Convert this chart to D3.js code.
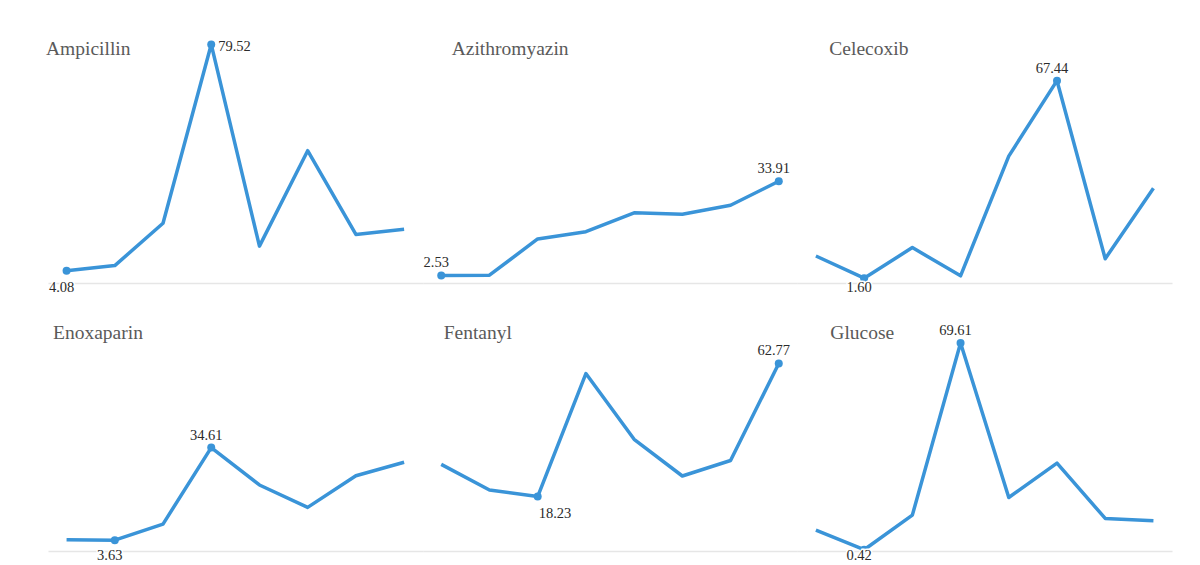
<!DOCTYPE html>
<html lang="en">

<head>
  <meta charset="UTF-8">
  <title>Drug series small multiples</title>
  <script src="https://d3js.org/d3.v7.min.js"></script>
  <style>
    body {
      margin: 0;
      background: #ffffff;
      font-family: 'Liberation Serif', 'Times New Roman', serif;
    }

    .title {
      fill: #5a5a5a;
      font-size: 19.5px;
    }

    .val {
      fill: #2b2b2b;
      font-size: 14.5px;
      paint-order: stroke;
      stroke: #fff;
      stroke-width: 3px;
    }

    .axis path {
      stroke: #e6e6e6;
      stroke-width: 1.5;
    }
  </style>
</head>

<body>
  <div id="chart"></div>

  <script>
    // data
    const drugs = ["Ampicillin", "Azithromyazin", "Celecoxib", "Enoxaparin", "Fentanyl", "Glucose"];
    const steps = [0, 1, 2, 3, 4, 5, 6, 7];
    const ampicillin = [4.08, 5.8, 19.9, 79.52, 12.3, 44.1, 16.2, 17.9];
    const azithromyazin = [2.53, 2.6, 14.7, 17.1, 23.4, 22.9, 25.9, 33.91];
    const celecoxib = [9.0, 1.60, 11.8, 2.4, 42.3, 67.44, 8.1, 31.6];
    const enoxaparin = [3.8, 3.63, 9.0, 34.61, 22.1, 14.6, 25.2, 29.7];
    const fentanyl = [29.0, 20.4, 18.23, 59.4, 37.4, 25.1, 30.3, 62.77];
    const glucose = [7.0, 0.42, 12.0, 69.61, 17.9, 29.4, 10.9, 10.1];
    const yMax = 80;

    const series = [ampicillin, azithromyazin, celecoxib, enoxaparin, fentanyl, glucose];

    // layout
    const width = 1200, height = 565;
    const gridLeft = 48, gridWidth = 1124;
    const colW = gridWidth / 3;
    const rows = [{ top: 43, bottom: 283, titleY: 54.5 }, { top: 312, bottom: 551, titleY: 338.5 }];
    const titleDx = [-2, 29, 32, 5, 21, 33];
    // where the max / min labels sit for each panel
    const labelPos = [
      { max: "right", min: "bottom" },
      { max: "top", min: "top" },
      { max: "top", min: "bottom" },
      { max: "top", min: "bottom" },
      { max: "top", min: "bottomRight" },
      { max: "top", min: "bottom" }
    ];
    const lineColor = "#3a94d8";

    const svg = d3.select("#chart")
      .append("svg")
      .attr("width", width)
      .attr("height", height);

    drugs.forEach((name, i) => {
      const row = rows[Math.floor(i / 3)];
      const left = gridLeft + (i % 3) * colW;
      const values = series[i];

      const x = d3.scalePoint()
        .domain(steps)
        .range([left, left + colW])
        .padding(0.385);

      const y = d3.scaleLinear()
        .domain([0, yMax])
        .range([row.bottom, row.top]);

      const g = svg.append("g");

      g.append("g")
        .attr("class", "axis")
        .attr("transform", `translate(0,${row.bottom})`)
        .call(d3.axisBottom(x).tickSize(0).tickFormat(""))
        .call(a => a.selectAll(".tick").remove());

      g.append("text")
        .attr("class", "title")
        .attr("x", left + titleDx[i])
        .attr("y", row.titleY)
        .text(name);

      const line = d3.line()
        .x((d, j) => x(steps[j]))
        .y(d => y(d));

      g.append("path")
        .datum(values)
        .attr("fill", "none")
        .attr("stroke", lineColor)
        .attr("stroke-width", 3.5)
        .attr("stroke-linejoin", "round")
        .attr("d", line);

      const iMax = d3.maxIndex(values), iMin = d3.minIndex(values);
      const marks = [
        { j: iMax, pos: labelPos[i].max },
        { j: iMin, pos: labelPos[i].min }
      ];

      marks.forEach(m => {
        const cx = x(steps[m.j]), cy = y(values[m.j]);
        g.append("circle")
          .attr("cx", cx)
          .attr("cy", cy)
          .attr("r", 4)
          .attr("fill", lineColor);

        let tx = cx - 5, ty = cy - 8, anchor = "middle";
        if (m.pos === "right") {
          tx = cx + 7; ty = cy + 6.5; anchor = "start";
        } else if (m.pos === "bottom") {
          ty = Math.min(cy + 21, row.bottom + 9);
        } else if (m.pos === "bottomRight") {
          tx = cx + 1; ty = cy + 21; anchor = "start";
        }

        g.append("text")
          .attr("class", "val")
          .attr("x", tx)
          .attr("y", ty)
          .attr("text-anchor", anchor)
          .text(values[m.j].toFixed(2));
      });
    });
  </script>
</body>

</html>
